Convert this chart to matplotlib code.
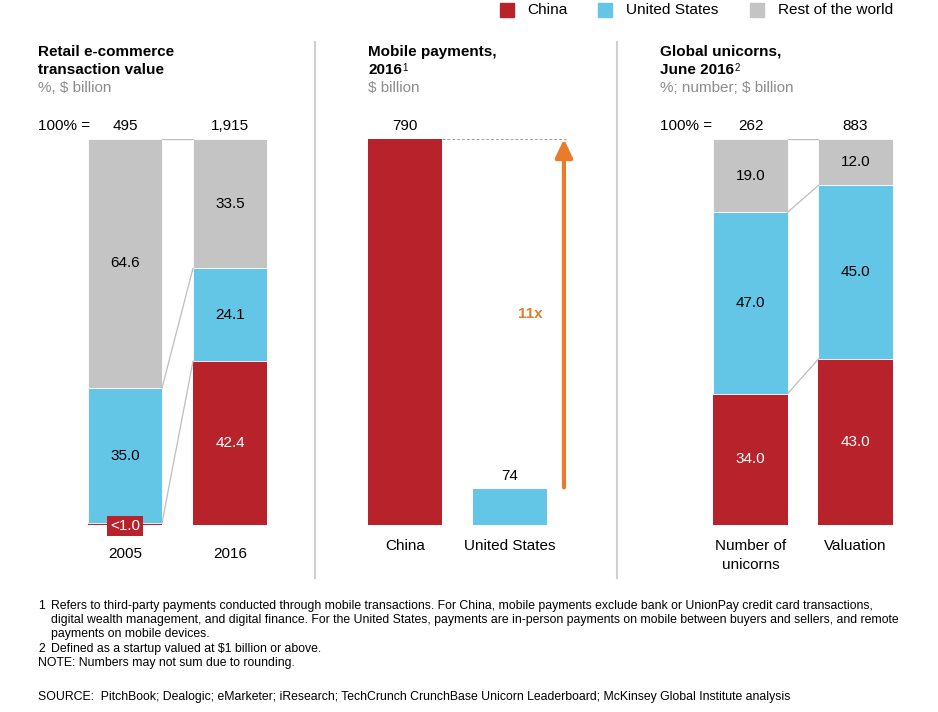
import matplotlib.pyplot as plt
import matplotlib.transforms as mtransforms

plt.rcParams['font.family'] = ['Liberation Sans', 'DejaVu Sans']

# Dados
years = ['2005', '2016']
ecom_total = ['495', '1,915']
ecom_china = [0.5, 42.4]
ecom_us = [35.0, 24.1]
ecom_row = [64.6, 33.5]
ecom_china_lbl = ['<1.0', '42.4']

pay_cats = ['China', 'United States']
pay_values = [790, 74]
pay_ratio = '11x'

uni_cats = ['Number of\nunicorns', 'Valuation']
uni_total = ['262', '883']
uni_china = [34.0, 43.0]
uni_us = [47.0, 45.0]
uni_row = [19.0, 12.0]

legend_names = ['China', 'United States', 'Rest of the world']

red = '#B8232B'
blue = '#63C6E7'
grey = '#C4C4C4'
orange = '#E87B2C'
subgrey = '#8C8C8C'
FS = 11

W, H = 938, 712
fig = plt.figure(figsize=(W/100, H/100), dpi=100)


def fx(x):
    return x/W


def fy(y):
    return 1 - y/H


BW = 0.705  # largura da barra (105 px = 1 unidade)


def make_ax(left, right, c0):
    ax = fig.add_axes([fx(left), fy(525), fx(right-left), 386/H])
    ax.set_xlim((left-c0)/105, (right-c0)/105)
    ax.axis('off')
    return ax


def stacked(ax, china, us, row, china_lbl, totals):
    x = [0, 1]
    b1 = [c+u for c, u in zip(china, us)]
    ekw = dict(edgecolor='white', linewidth=0.6)
    ax.bar(x, china, BW, color=red, linewidth=0)
    ax.bar(x, us, BW, bottom=china, color=blue, **ekw)
    ax.bar(x, row, BW, bottom=b1, color=grey, **ekw)
    ax.set_ylim(0, 100)
    # conectores
    for k in [china, b1, [100, 100]]:
        ax.plot([BW/2, 1-BW/2], [k[0], k[1]], color='#BDBDBD', lw=0.9)
    for i in x:
        if china[i] > 3:
            ax.text(i, china[i]/2, china_lbl[i], ha='center', va='center',
                    color='white', fontsize=FS)
        ax.text(i, china[i]+us[i]/2, '%.1f' % us[i], ha='center', va='center', fontsize=FS)
        ax.text(i, b1[i]+row[i]/2, '%.1f' % row[i], ha='center', va='center', fontsize=FS)
    tr = mtransforms.blended_transform_factory(ax.transData, fig.transFigure)
    for i in x:
        ax.text(i, fy(126), totals[i], ha='center', va='center', fontsize=FS, transform=tr)
    return tr


# Painel 1
ax1 = make_ax(70, 290, 125)
tr1 = stacked(ax1, ecom_china, ecom_us, ecom_row, ecom_china_lbl, ecom_total)
ax1.text(0, ecom_china[0] - 0.7, ecom_china_lbl[0], ha='center', va='center', color='white',
         fontsize=FS, bbox=dict(boxstyle='square,pad=0.18', fc=red, ec='none'))
for i, yr in enumerate(years):
    ax1.text(i, fy(554), yr, ha='center', va='center', fontsize=FS, transform=tr1)

# Painel 2
ax2 = make_ax(345, 600, 405)
ax2.bar([0, 1], pay_values, BW, color=[red, blue])
ax2.set_ylim(0, pay_values[0])
tr2 = mtransforms.blended_transform_factory(ax2.transData, fig.transFigure)
ax2.text(0, fy(126), str(pay_values[0]), ha='center', va='center', fontsize=FS, transform=tr2)
ax2.text(1, pay_values[1] + 6*pay_values[0]/386, str(pay_values[1]), ha='center', va='bottom',
         fontsize=FS)
for i, c in enumerate(pay_cats):
    ax2.text(i, fy(546), c, ha='center', va='center', fontsize=FS, transform=tr2)
ax2.plot([BW/2, 1.53], [pay_values[0], pay_values[0]], color='#A0A0A0', lw=0.7, ls=(0, (3, 2)))
ax2.annotate('', xy=(1.514, pay_values[0]), xytext=(1.514, pay_values[1] + 3),
             arrowprops=dict(arrowstyle='-|>,head_width=0.26,head_length=0.55', color=orange,
                             lw=3, mutation_scale=20, shrinkA=0, shrinkB=0))
ax2.text(1.19, pay_values[0]*(525-314)/386, pay_ratio, ha='center', va='center',
         color=orange, fontsize=FS, fontweight='bold')

# Painel 3
ax3 = make_ax(690, 915, 750.5)
tr3 = stacked(ax3, uni_china, uni_us, uni_row, ['%.1f' % v for v in uni_china], uni_total)
ax3.text(0, fy(546), uni_cats[0].split('\n')[0], ha='center', va='center', fontsize=FS, transform=tr3)
ax3.text(0, fy(565), uni_cats[0].split('\n')[1], ha='center', va='center', fontsize=FS, transform=tr3)
ax3.text(1, fy(546), uni_cats[1], ha='center', va='center', fontsize=FS, transform=tr3)

# Separadores
for xs in [315, 617]:
    fig.add_artist(plt.Line2D([fx(xs), fx(xs)], [fy(42), fy(578)], color='#D0D0D0', lw=1.5))

# Titulos
tkw = dict(fontsize=11, fontweight='bold', va='center', ha='left')
fig.text(fx(38), fy(52), 'Retail e-commerce', **tkw)
fig.text(fx(38), fy(70), 'transaction value', **tkw)
fig.text(fx(38), fy(88), '%, $ billion', color=subgrey, fontsize=11, va='center')
fig.text(fx(38), fy(126), '100% =', fontsize=FS, va='center')

fig.text(fx(368), fy(52), 'Mobile payments,', **tkw)
t2 = fig.text(fx(368), fy(70), '2016', **tkw)
plt.annotate('1', xy=(1.0, 1.0), xycoords=t2, xytext=(0.5, 0), textcoords='offset points',
             va='top', ha='left', fontsize=7)
fig.text(fx(368), fy(88), '$ billion', color=subgrey, fontsize=11, va='center')

fig.text(fx(660), fy(52), 'Global unicorns,', **tkw)
t3 = fig.text(fx(660), fy(70), 'June 2016', **tkw)
plt.annotate('2', xy=(1.0, 1.0), xycoords=t3, xytext=(0.5, 0), textcoords='offset points',
             va='top', ha='left', fontsize=7)
fig.text(fx(660), fy(88), '%; number; $ billion', color=subgrey, fontsize=11, va='center')
fig.text(fx(660), fy(126), '100% =', fontsize=FS, va='center')

# Legenda
for (sx, tx), name, col in zip([(500, 527), (598, 626), (750, 778)], legend_names, [red, blue, grey]):
    fig.add_artist(plt.Rectangle((fx(sx), fy(17)), fx(14), 14/H, color=col))
    fig.text(fx(tx), fy(10), name, fontsize=11.1, va='center')

# Notas
fkw = dict(fontsize=8.8, va='center')
fig.text(fx(38), fy(606), '1', **fkw)
fig.text(fx(51), fy(606), 'Refers to third-party payments conducted through mobile transactions. For China, '
         'mobile payments exclude bank or UnionPay credit card transactions,', **fkw)
fig.text(fx(51), fy(620), 'digital wealth management, and digital finance. For the United States, payments are '
         'in-person payments on mobile between buyers and sellers, and remote', **fkw)
fig.text(fx(51), fy(634), 'payments on mobile devices.', **fkw)
fig.text(fx(38), fy(649), '2', **fkw)
fig.text(fx(51), fy(649), 'Defined as a startup valued at $1 billion or above.', **fkw)
fig.text(fx(38), fy(663), 'NOTE: Numbers may not sum due to rounding.', **fkw)
fig.text(fx(38), fy(697), 'SOURCE:  PitchBook; Dealogic; eMarketer; iResearch; TechCrunch CrunchBase Unicorn '
         'Leaderboard; McKinsey Global Institute analysis', **fkw)

plt.savefig('out.png', dpi=100)
